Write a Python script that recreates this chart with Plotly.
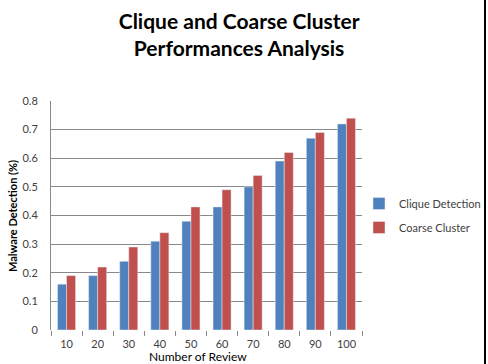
import plotly.graph_objects as go

categories = ["10", "20", "30", "40", "50", "60", "70", "80", "90", "100"]
clique = [0.16, 0.19, 0.24, 0.31, 0.38, 0.43, 0.50, 0.59, 0.67, 0.72]
coarse = [0.19, 0.22, 0.29, 0.34, 0.43, 0.49, 0.54, 0.62, 0.69, 0.74]
y_ticks = [0, 0.1, 0.2, 0.3, 0.4, 0.5, 0.6, 0.7, 0.8]
y_labels = ["0", "0.1", "0.2", "0.3", "0.4", "0.5", "0.6", "0.7", "0.8"]

L, R, T, B = 51, 126, 101, 34
W, H = 488, 364
pw, ph = W - L - R, H - T - B

def px_x(x):
    return (x - L) / pw

def px_y(y):
    return (H - B - y) / ph

fig = go.Figure()
fig.add_trace(go.Bar(x=categories, y=clique, name="Clique Detection",
                     marker_color="#4F81BD", legendgroup="a"))
fig.add_trace(go.Bar(x=categories, y=coarse, name="Coarse Cluster",
                     marker_color="#C0504D", legendgroup="b"))

fig.update_layout(
    width=W, height=H,
    margin=dict(l=L, r=R, t=T, b=B, autoexpand=False),
    paper_bgcolor="white", plot_bgcolor="white",
    barmode="group", bargap=0.42, bargroupgap=0,
    font=dict(family="Lato", size=11, color="#404040"),
    title=dict(text="<b>Clique and Coarse Cluster<br>Performances Analysis</b>",
               x=0.49, xanchor="center", y=1 - 29 / H, yanchor="middle",
               font=dict(family="Lato", size=21, color="black")),
    showlegend=True,
    legend=dict(x=px_x(359), xanchor="left", y=0.5, yanchor="middle",
                font=dict(size=11, color="#404040"), tracegroupgap=5,
                itemwidth=30, bgcolor="rgba(0,0,0,0)"),
)
fig.update_xaxes(showline=False, ticks="outside", tickson="boundaries", ticklen=5,
                 tickangle=0, tickcolor="#888888", showgrid=False, ticklabelstandoff=6,
                 tickfont=dict(size=11, color="#404040"))
fig.update_yaxes(range=[0, 0.8], tickvals=y_ticks, ticktext=y_labels, showline=True,
                 linecolor="#888888", linewidth=1, gridcolor="#888888", gridwidth=1,
                 ticks="", zeroline=False, ticklabelstandoff=10,
                 tickfont=dict(size=11, color="#404040"))

fig.add_annotation(text="Number of Review", xref="paper", yref="paper",
                   x=px_x(198), y=px_y(356), xanchor="center", yanchor="middle",
                   showarrow=False, font=dict(size=12, color="black"))
fig.add_annotation(text="<b>Malware Detection (%)</b>", xref="paper", yref="paper",
                   x=px_x(12), y=px_y(216), xanchor="center", yanchor="middle",
                   textangle=-90, showarrow=False, font=dict(size=11, color="black"))
fig.add_shape(type="line", xref="paper", yref="paper",
              x0=px_x(485), x1=px_x(485), y0=px_y(H + 2), y1=px_y(-2),
              line=dict(color="black", width=2))

fig.write_html("out.html")
